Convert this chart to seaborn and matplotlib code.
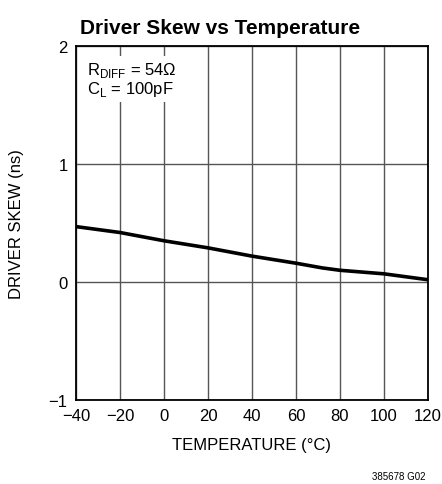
import pandas as pd
import seaborn as sns
import matplotlib.pyplot as plt

# values
temperature = [-40, -20, 0, 20, 40, 60, 72, 80, 100, 120]
skew_ns = [0.47, 0.42, 0.35, 0.29, 0.22, 0.16, 0.12, 0.10, 0.07, 0.02]
x_ticks = [-40, -20, 0, 20, 40, 60, 80, 100, 120]
y_ticks = [-1, 0, 1, 2]

df = pd.DataFrame({"temp": temperature, "skew": skew_ns})

sns.set_style("white")
plt.rcParams["font.family"] = ["Liberation Sans", "DejaVu Sans"]
plt.rcParams["text.color"] = "black"
plt.rcParams["axes.labelcolor"] = "black"
plt.rcParams["xtick.color"] = "black"
plt.rcParams["ytick.color"] = "black"

fig = plt.figure(figsize=(4.42, 4.85), dpi=100)
ax = fig.add_axes([0.172, 0.173, 0.796, 0.730])

sns.lineplot(x="temp", y="skew", data=df, color="black", linewidth=2.6, ax=ax, zorder=3)

ax.set_xlim(-40, 120)
ax.set_ylim(-1, 2)
ax.set_xticks(x_ticks)
ax.set_yticks(y_ticks)
ax.set_xticklabels([str(t).replace("-", "\u2212") for t in x_ticks], fontsize=12)
ax.set_yticklabels([str(t).replace("-", "\u2212") for t in y_ticks], fontsize=12)
ax.tick_params(length=0, pad=6)
ax.grid(True, color="#555555", linewidth=1.0)
for s in ax.spines.values():
    s.set_color("black")
    s.set_linewidth(1.3)

ax.set_xlabel("TEMPERATURE (\u00b0C)", fontsize=12, labelpad=10)
ax.set_ylabel("DRIVER SKEW (ns)", fontsize=12, labelpad=18)

ax.text(-35, 1.88, "R$_{\\mathregular{DIFF}}$ = 54\u03a9\nC$_{\\mathregular{L}}$ = 100pF",
        fontsize=12, va="top", ha="left", linespacing=1.0,
        bbox=dict(facecolor="white", edgecolor="none", pad=3), zorder=4)

fig.text(0.498, 0.942, "Driver Skew vs Temperature", fontsize=15,
         fontweight="bold", ha="center", va="center")
fig.text(0.962, 0.006, "385678 G02", fontsize=7, ha="right", va="bottom")

fig.savefig("out.png", dpi=100)
